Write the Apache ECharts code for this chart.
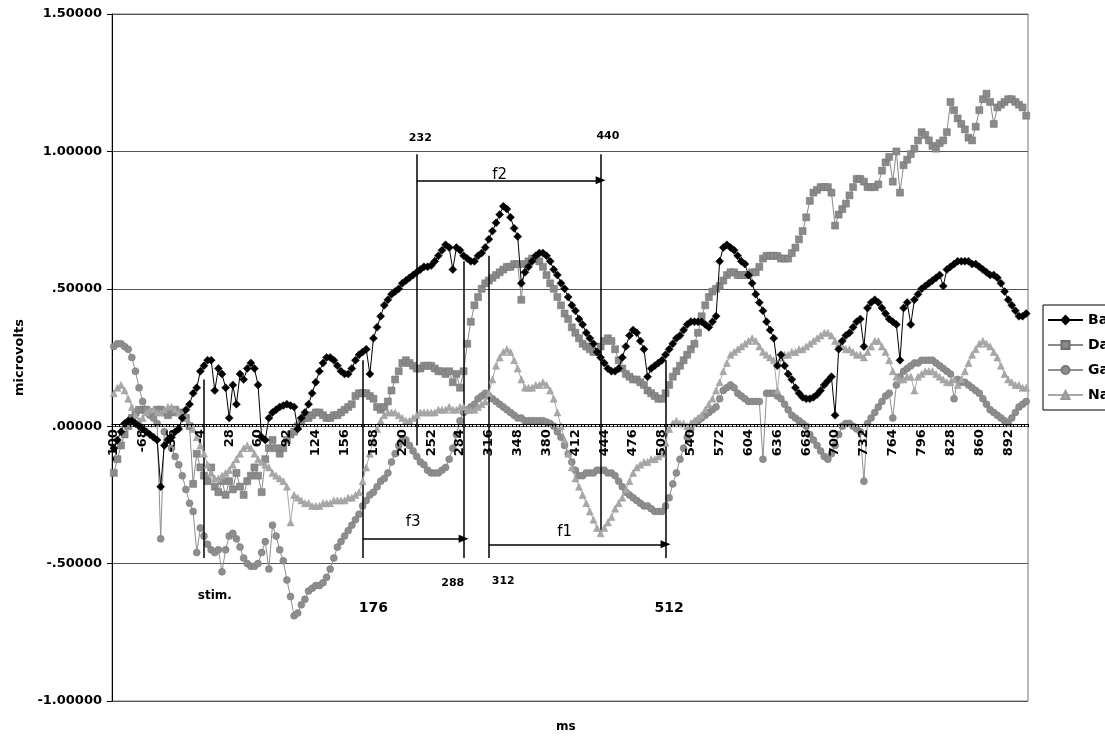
<!DOCTYPE html>
<html>
<head>
<meta charset="utf-8">
<script src="https://cdn.jsdelivr.net/npm/echarts@6/dist/echarts.min.js"></script>
<style>html,body{margin:0;padding:0;background:#fff}#c{width:1105px;height:738px}</style>
</head>
<body>
<div id="c"></div>
<script>
// ms categories, -100 .. 912 step 4
var categories = [];
for (var t = -100; t <= 912; t += 4) categories.push(String(t));

var seriesNames = ['Ba', 'Da', 'Ga', 'Na'];

var ba = [
-0.08,-0.05,-0.02,0.01,0.02,0.02,0.01,0.00,
-0.01,-0.02,-0.03,-0.04,-0.05,-0.22,-0.07,-0.05,
-0.04,-0.02,-0.01,0.03,0.06,0.08,0.12,0.14,
0.20,0.22,0.24,0.24,0.13,0.21,0.19,0.14,
0.03,0.15,0.08,0.19,0.17,0.21,0.23,0.21,
0.15,-0.04,-0.05,0.03,0.05,0.06,0.07,0.075,
0.08,0.075,0.07,-0.01,0.03,0.05,0.08,0.12,
0.16,0.20,0.23,0.25,0.25,0.24,0.22,0.20,
0.19,0.19,0.21,0.24,0.26,0.27,0.28,0.19,
0.32,0.36,0.40,0.44,0.46,0.48,0.49,0.50,
0.52,0.53,0.54,0.55,0.56,0.57,0.58,0.58,
0.585,0.60,0.62,0.64,0.66,0.65,0.57,0.65,
0.64,0.62,0.61,0.60,0.60,0.62,0.63,0.65,
0.68,0.71,0.74,0.77,0.80,0.79,0.76,0.72,
0.69,0.52,0.56,0.58,0.60,0.62,0.63,0.63,
0.62,0.60,0.57,0.55,0.52,0.50,0.47,0.44,
0.42,0.39,0.37,0.34,0.32,0.30,0.27,0.25,
0.23,0.21,0.20,0.20,0.21,0.25,0.29,0.33,
0.35,0.34,0.31,0.28,0.18,0.21,0.22,0.23,
0.24,0.26,0.28,0.30,0.32,0.33,0.35,0.37,
0.38,0.38,0.38,0.38,0.37,0.36,0.38,0.40,
0.60,0.65,0.66,0.65,0.64,0.62,0.60,0.59,
0.55,0.52,0.48,0.45,0.42,0.38,0.35,0.32,
0.22,0.26,0.22,0.19,0.17,0.14,0.12,0.105,
0.10,0.10,0.105,0.115,0.13,0.15,0.165,0.18,
0.04,0.28,0.31,0.33,0.34,0.36,0.38,0.39,
0.29,0.43,0.45,0.46,0.45,0.43,0.41,0.39,
0.38,0.37,0.24,0.43,0.45,0.37,0.46,0.48,
0.50,0.51,0.52,0.53,0.54,0.55,0.51,0.57,
0.58,0.59,0.60,0.60,0.60,0.60,0.59,0.59,
0.58,0.57,0.56,0.55,0.55,0.54,0.52,0.49,
0.46,0.44,0.42,0.40,0.40,0.41
];

var da = [
-0.17,-0.12,-0.07,-0.03,0.00,0.03,0.05,0.06,
0.06,0.06,0.05,0.05,0.06,0.06,0.05,0.04,
0.05,0.06,0.05,0.04,0.03,0.00,-0.21,-0.10,
-0.15,-0.18,-0.20,-0.15,-0.22,-0.24,-0.20,-0.25,
-0.20,-0.23,-0.17,-0.22,-0.25,-0.20,-0.18,-0.15,
-0.18,-0.24,-0.12,-0.08,-0.05,-0.08,-0.10,-0.08,
-0.05,-0.03,-0.02,0.00,0.02,0.03,0.03,0.04,
0.05,0.05,0.04,0.03,0.03,0.04,0.04,0.05,
0.06,0.07,0.08,0.11,0.12,0.12,0.12,0.11,
0.10,0.07,0.06,0.07,0.09,0.13,0.17,0.20,
0.23,0.24,0.23,0.22,0.21,0.21,0.22,0.22,
0.22,0.21,0.20,0.20,0.19,0.20,0.16,0.19,
0.14,0.20,0.30,0.38,0.44,0.47,0.50,0.52,
0.53,0.54,0.55,0.56,0.57,0.58,0.58,0.59,
0.59,0.46,0.59,0.60,0.61,0.61,0.60,0.58,
0.55,0.52,0.50,0.47,0.44,0.41,0.39,0.36,
0.34,0.32,0.30,0.29,0.28,0.27,0.27,0.29,
0.31,0.32,0.31,0.28,0.24,0.21,0.19,0.18,
0.17,0.17,0.16,0.15,0.13,0.12,0.11,0.10,
0.10,0.12,0.15,0.18,0.20,0.22,0.24,0.26,
0.28,0.30,0.34,0.40,0.44,0.47,0.49,0.50,
0.51,0.53,0.55,0.56,0.56,0.55,0.55,0.55,
0.55,0.56,0.56,0.58,0.61,0.62,0.62,0.62,
0.62,0.61,0.61,0.61,0.63,0.65,0.68,0.71,
0.76,0.82,0.85,0.86,0.87,0.87,0.87,0.85,
0.73,0.77,0.79,0.81,0.84,0.87,0.90,0.90,
0.89,0.87,0.87,0.87,0.88,0.93,0.96,0.98,
0.89,1.00,0.85,0.95,0.97,0.99,1.01,1.04,
1.07,1.06,1.04,1.02,1.01,1.03,1.04,1.07,
1.18,1.15,1.12,1.10,1.08,1.05,1.04,1.09,
1.15,1.19,1.21,1.18,1.10,1.16,1.17,1.18,
1.19,1.19,1.18,1.17,1.16,1.13
];

var ga = [
0.29,0.30,0.30,0.29,0.28,0.25,0.20,0.14,
0.09,0.06,0.04,0.03,0.01,-0.41,-0.02,-0.05,
-0.08,-0.11,-0.14,-0.18,-0.23,-0.28,-0.31,-0.46,
-0.37,-0.40,-0.43,-0.45,-0.46,-0.45,-0.53,-0.45,
-0.40,-0.39,-0.41,-0.44,-0.48,-0.50,-0.51,-0.51,
-0.50,-0.46,-0.42,-0.52,-0.36,-0.40,-0.45,-0.49,
-0.56,-0.62,-0.69,-0.68,-0.65,-0.63,-0.60,-0.59,
-0.58,-0.58,-0.57,-0.55,-0.52,-0.48,-0.44,-0.42,
-0.40,-0.38,-0.36,-0.34,-0.32,-0.29,-0.27,-0.25,
-0.24,-0.22,-0.20,-0.19,-0.17,-0.13,-0.10,-0.07,
-0.05,-0.05,-0.07,-0.09,-0.11,-0.13,-0.14,-0.16,
-0.17,-0.17,-0.17,-0.16,-0.15,-0.12,-0.08,-0.03,
0.02,0.05,0.06,0.07,0.08,0.10,0.11,0.12,
0.11,0.10,0.09,0.08,0.07,0.06,0.05,0.04,
0.03,0.03,0.02,0.02,0.02,0.02,0.02,0.02,
0.015,0.01,0.00,-0.02,-0.04,-0.07,-0.10,-0.13,
-0.16,-0.18,-0.18,-0.17,-0.17,-0.17,-0.16,-0.16,
-0.16,-0.17,-0.17,-0.18,-0.20,-0.22,-0.24,-0.25,
-0.26,-0.27,-0.28,-0.29,-0.29,-0.30,-0.31,-0.31,
-0.31,-0.29,-0.26,-0.21,-0.17,-0.12,-0.08,-0.04,
-0.01,0.01,0.02,0.03,0.04,0.05,0.06,0.07,
0.10,0.13,0.14,0.15,0.14,0.12,0.11,0.10,
0.09,0.09,0.09,0.09,-0.12,0.12,0.12,0.12,
0.11,0.10,0.08,0.06,0.04,0.03,0.02,0.01,
0.00,-0.03,-0.05,-0.07,-0.09,-0.11,-0.12,-0.10,
-0.07,-0.03,0.00,0.01,0.01,0.00,-0.01,-0.02,
-0.20,0.01,0.03,0.05,0.07,0.09,0.11,0.12,
0.03,0.15,0.18,0.20,0.21,0.22,0.23,0.23,
0.24,0.24,0.24,0.24,0.23,0.22,0.21,0.20,
0.19,0.10,0.17,0.16,0.16,0.15,0.14,0.13,
0.12,0.10,0.08,0.06,0.05,0.04,0.03,0.02,
0.01,0.03,0.05,0.07,0.08,0.09
];

var na = [
0.12,0.14,0.15,0.13,0.10,0.07,0.04,0.02,
0.03,0.05,0.06,0.06,0.05,0.05,0.06,0.07,
0.07,0.06,0.05,0.04,0.03,0.01,-0.01,-0.04,
-0.07,-0.10,-0.14,-0.17,-0.19,-0.19,-0.18,-0.17,
-0.16,-0.14,-0.12,-0.10,-0.08,-0.07,-0.08,-0.10,
-0.12,-0.13,-0.14,-0.15,-0.17,-0.18,-0.19,-0.20,
-0.22,-0.35,-0.25,-0.26,-0.27,-0.28,-0.28,-0.29,
-0.29,-0.29,-0.28,-0.28,-0.28,-0.27,-0.27,-0.27,
-0.27,-0.26,-0.26,-0.25,-0.24,-0.20,-0.15,-0.10,
-0.05,-0.01,0.02,0.04,0.05,0.05,0.05,0.04,
0.03,0.02,0.02,0.03,0.04,0.05,0.05,0.05,
0.05,0.05,0.06,0.06,0.06,0.07,0.06,0.06,
0.07,0.07,0.06,0.06,0.06,0.07,0.08,0.09,
0.12,0.17,0.22,0.25,0.27,0.28,0.27,0.24,
0.21,0.17,0.14,0.14,0.14,0.15,0.15,0.16,
0.15,0.13,0.10,0.05,0.00,-0.05,-0.10,-0.15,
-0.19,-0.22,-0.25,-0.28,-0.31,-0.34,-0.37,-0.39,
-0.37,-0.35,-0.33,-0.30,-0.28,-0.26,-0.23,-0.20,
-0.17,-0.15,-0.14,-0.13,-0.13,-0.12,-0.12,-0.11,
-0.10,-0.06,-0.01,0.01,0.02,0.01,0.01,0.00,
0.01,0.02,0.03,0.04,0.06,0.08,0.10,0.13,
0.16,0.20,0.23,0.26,0.27,0.28,0.29,0.30,
0.31,0.32,0.31,0.29,0.27,0.26,0.25,0.24,
0.13,0.25,0.26,0.26,0.27,0.27,0.28,0.28,
0.29,0.30,0.31,0.32,0.33,0.34,0.34,0.33,
0.31,0.30,0.29,0.28,0.28,0.27,0.26,0.26,
0.25,0.27,0.29,0.31,0.31,0.29,0.27,0.24,
0.20,0.18,0.17,0.17,0.18,0.18,0.13,0.18,
0.19,0.20,0.20,0.20,0.19,0.18,0.17,0.16,
0.16,0.17,0.15,0.17,0.20,0.23,0.26,0.28,
0.30,0.31,0.30,0.29,0.27,0.25,0.22,0.19,
0.17,0.16,0.15,0.15,0.14,0.14
];

var yTicks = { min: -1, max: 1.5, step: 0.5 };

// annotation segments: [x category, y from, y to]
var vLines = [
  ['0', 0.17, -0.48],
  ['176', 0.24, -0.48],
  ['236', 0.99, -0.07],
  ['288', 0.60, -0.48],
  ['316', 0.62, -0.48],
  ['440', 0.99, -0.39],
  ['512', 0.24, -0.48]
];
// arrows: [x from, x to, y]
var arrows = [
  ['236', '440', 0.895],
  ['176', '288', -0.41],
  ['316', '512', -0.43]
];
// texts: [label, x category, y, fontSize, weight]
var notes = [
  ['232', '240', 1.05, 11, 'bold'],
  ['440', '448', 1.055, 11, 'bold'],
  ['f2', '328', 0.913, 15, 'normal'],
  ['f3', '232', -0.349, 15, 'normal'],
  ['f1', '400', -0.385, 15, 'normal'],
  ['288', '276', -0.571, 11, 'bold'],
  ['312', '332', -0.564, 11, 'bold'],
  ['176', '188', -0.662, 14, 'bold'],
  ['512', '516', -0.662, 14, 'bold'],
  ['stim.', '12', -0.618, 12, 'bold']
];

var FONT = 'DejaVu Sans';

function fmtY(v) {
  var s = Math.abs(v).toFixed(5);
  if (s.charAt(0) === '0') s = s.substring(1);
  return (v < 0 ? '-' : '') + s;
}

var mlData = [];
vLines.forEach(function (l) {
  mlData.push([{ coord: [l[0], l[1]], symbol: 'none' }, { coord: [l[0], l[2]], symbol: 'none' }]);
});
arrows.forEach(function (a) {
  mlData.push([{ coord: [a[0], a[2]], symbol: 'none' }, { coord: [a[1], a[2]], symbol: 'triangle', symbolSize: [8, 10], symbolRotate: -90 }]);
});

var mpData = notes.map(function (n) {
  return {
    name: n[0], coord: [n[1], n[2]],
    label: { show: true, position: 'inside', formatter: n[0], color: '#000', fontFamily: FONT, fontSize: n[3], fontWeight: n[4] }
  };
});

var chart = echarts.init(document.getElementById('c'), null, { renderer: 'canvas' });

function mkSeries(name, data, symbol, size, color, border, z) {
  return {
    name: name, type: 'line', data: data, symbol: symbol, symbolSize: size,
    showAllSymbol: true, z: z,
    lineStyle: { color: color, width: 1 },
    itemStyle: { color: color, borderColor: border, borderWidth: 0.5 },
    emphasis: { disabled: true }
  };
}

var s = [
  mkSeries(seriesNames[1], da, 'rect', 7, '#8a8a8a', '#6e6e6e', 3),
  mkSeries(seriesNames[2], ga, 'circle', 7, '#8e8e8e', '#777', 4),
  mkSeries(seriesNames[3], na, 'triangle', 7, '#a8a8a8', '#999', 5),
  mkSeries(seriesNames[0], ba, 'diamond', 8, '#000', '#000', 6)
];
s[3].markLine = {
  silent: true, animation: false, symbol: 'none',
  label: { show: false },
  lineStyle: { color: '#000', width: 1.5, type: 'solid' },
  emphasis: { disabled: true },
  data: mlData
};
s[3].markPoint = {
  silent: true, animation: false, symbol: 'rect', symbolSize: 1,
  itemStyle: { color: 'rgba(0,0,0,0)' },
  data: mpData
};

var GRID = { left: 112, top: 14, width: 916, height: 687 };

chart.setOption({
  animation: false,
  backgroundColor: '#fff',
  grid: { left: GRID.left, top: GRID.top, width: GRID.width, height: GRID.height, show: true, borderColor: '#777', borderWidth: 1, backgroundColor: 'transparent' },
  legend: {
    data: seriesNames, orient: 'vertical', left: 1043, top: 305,
    itemWidth: 35, itemHeight: 10, itemGap: 11,
    padding: [8, 6, 8, 4],
    borderColor: '#000', borderWidth: 1, backgroundColor: '#fff',
    textStyle: { fontFamily: FONT, fontSize: 14, fontWeight: 'bold', color: '#000' }
  },
  xAxis: {
    type: 'category', data: categories, boundaryGap: true, position: 'bottom', z: 10,
    axisLine: { onZero: false, lineStyle: { color: '#000', width: 1 } },
    axisTick: { show: true, interval: 0, length: 3, lineStyle: { color: '#000' } },
    axisLabel: { interval: 7, rotate: 90, margin: 5, fontFamily: FONT, fontSize: 13, fontWeight: 'bold', color: '#000' },
    splitLine: { show: false }
  },
  yAxis: {
    type: 'value', min: yTicks.min, max: yTicks.max, interval: yTicks.step,
    name: 'microvolts', nameLocation: 'middle', nameGap: 82,
    nameTextStyle: { fontFamily: FONT, fontSize: 13, fontWeight: 'bold', color: '#000' },
    axisLine: { show: true, lineStyle: { color: '#000' } },
    axisTick: { show: true, length: 5, lineStyle: { color: '#000' } },
    axisLabel: { formatter: fmtY, margin: 10, fontFamily: FONT, fontSize: 13, fontWeight: 'bold', color: '#000' },
    splitLine: { show: true, lineStyle: { color: '#555', width: 1 } }
  },
  graphic: [{
    type: 'text', left: 556, top: 721,
    style: { text: 'ms', fontFamily: FONT, fontSize: 12, fontWeight: 'bold', fill: '#000' }
  }],
  series: s
});

// move the category axis (line, ticks, labels) up to the zero value line
var zeroY = chart.convertToPixel({ yAxisIndex: 0 }, 0);
var bottomY = GRID.top + GRID.height;
chart.setOption({ xAxis: { offset: zeroY - bottomY } });
</script>
</body>
</html>
